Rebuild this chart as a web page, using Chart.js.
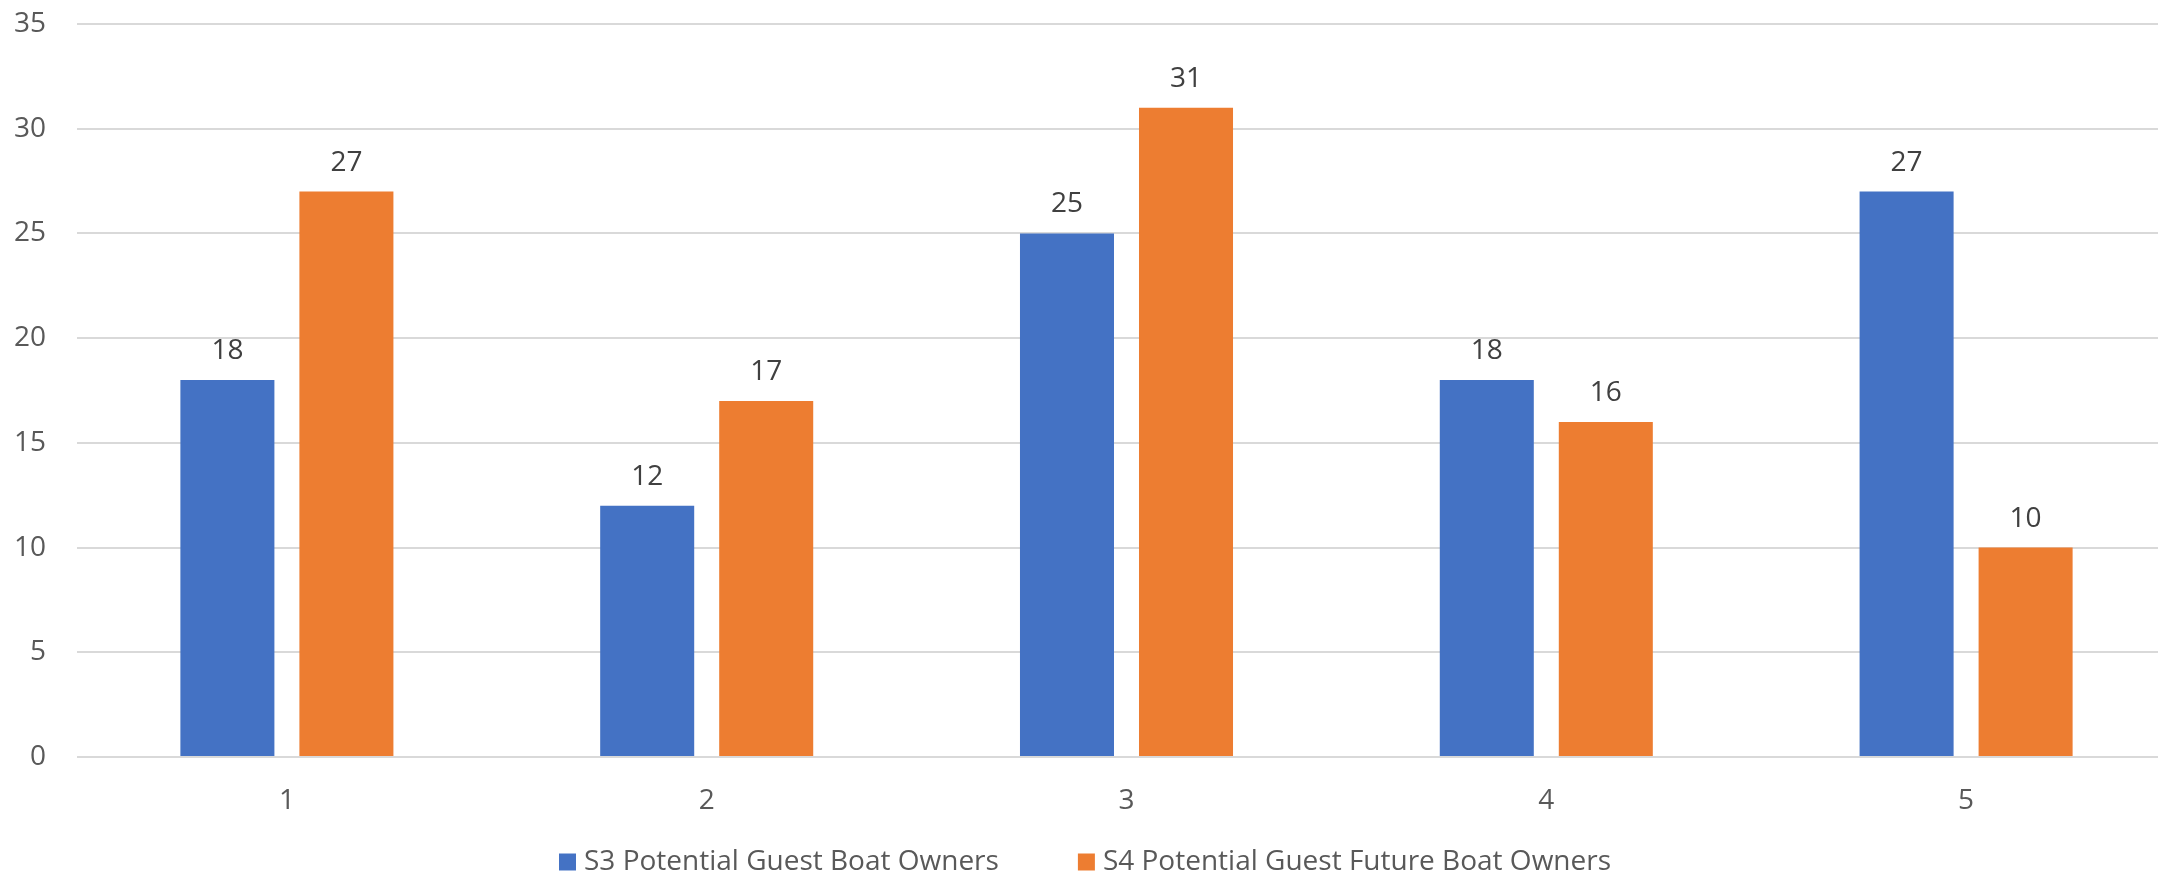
<!DOCTYPE html>
<html>
<head>
<meta charset="utf-8">
<title>Potential Guests</title>
<script src="https://cdn.jsdelivr.net/npm/chart.js@4.4.1/dist/chart.umd.min.js"></script>
<style>
  html, body { margin: 0; padding: 0; background: #ffffff; overflow: hidden; width: 2158px; height: 874px; }
  #wrap { width: 2180px; height: 874px; }
</style>
</head>
<body>
<div id="wrap"><canvas id="chart" width="2180" height="874"></canvas></div>
<script>
// Categories along the x axis
const categories = ['1', '2', '3', '4', '5'];

// Series names (legend)
const seriesNames = ['S3 Potential Guest Boat Owners', 'S4 Potential Guest Future Boat Owners'];

// Series values
const guestBoatOwners = [18, 12, 25, 18, 27];
const guestFutureBoatOwners = [27, 17, 31, 16, 10];

// Value axis ticks
const yTicks = [0, 5, 10, 15, 20, 25, 30, 35];

const FONT = '"Open Sans", "Liberation Sans", sans-serif';

// Writes each bar's value just above it
const valueLabels = {
  id: 'valueLabels',
  afterDatasetsDraw(chart) {
    const ctx = chart.ctx;
    ctx.save();
    ctx.font = '28px ' + FONT;
    ctx.fillStyle = '#404040';
    ctx.textAlign = 'center';
    ctx.textBaseline = 'alphabetic';
    chart.data.datasets.forEach((ds, i) => {
      chart.getDatasetMeta(i).data.forEach((bar, j) => {
        ctx.fillText(String(ds.data[j]), bar.x, bar.y - 21);
      });
    });
    ctx.restore();
  }
};

new Chart(document.getElementById('chart'), {
  type: 'bar',
  data: {
    labels: categories,
    datasets: [
      {
        label: seriesNames[0],
        data: guestBoatOwners,
        backgroundColor: '#4472C4',
        borderWidth: 0,
        categoryPercentage: 0.567,
        barPercentage: 0.79
      },
      {
        label: seriesNames[1],
        data: guestFutureBoatOwners,
        backgroundColor: '#ED7D31',
        borderWidth: 0,
        categoryPercentage: 0.567,
        barPercentage: 0.79
      }
    ]
  },
  options: {
    responsive: false,
    devicePixelRatio: 1,
    animation: false,
    layout: { padding: { top: 24, right: 4, bottom: -12, left: 0 } },
    plugins: {
      tooltip: { enabled: false },
      legend: {
        position: 'bottom',
        labels: {
          usePointStyle: true,
          pointStyle: 'rect',
          boxWidth: 5,
          boxHeight: 17,
          padding: 85,
          color: '#595959',
          font: { family: FONT, size: 28 }
        }
      }
    },
    scales: {
      x: {
        grid: { display: false, drawTicks: false },
        border: { display: false },
        ticks: {
          color: '#595959',
          mirror: true,
          padding: -61,
          maxRotation: 0,
          font: { family: FONT, size: 28 }
        },
        afterFit(scale) { scale.height = 6; }
      },
      y: {
        min: 0,
        max: 35,
        afterBuildTicks(scale) { scale.ticks = yTicks.map(v => ({ value: v })); },
        grid: { color: '#d9d9d9', lineWidth: 2, drawTicks: true, tickLength: 30, tickColor: 'rgba(0,0,0,0)' },
        border: { display: false },
        ticks: { color: '#595959', padding: 1, font: { family: FONT, size: 28 } },
        afterFit(scale) { scale.width = 77; }
      }
    }
  },
  plugins: [valueLabels]
});
</script>
</body>
</html>
